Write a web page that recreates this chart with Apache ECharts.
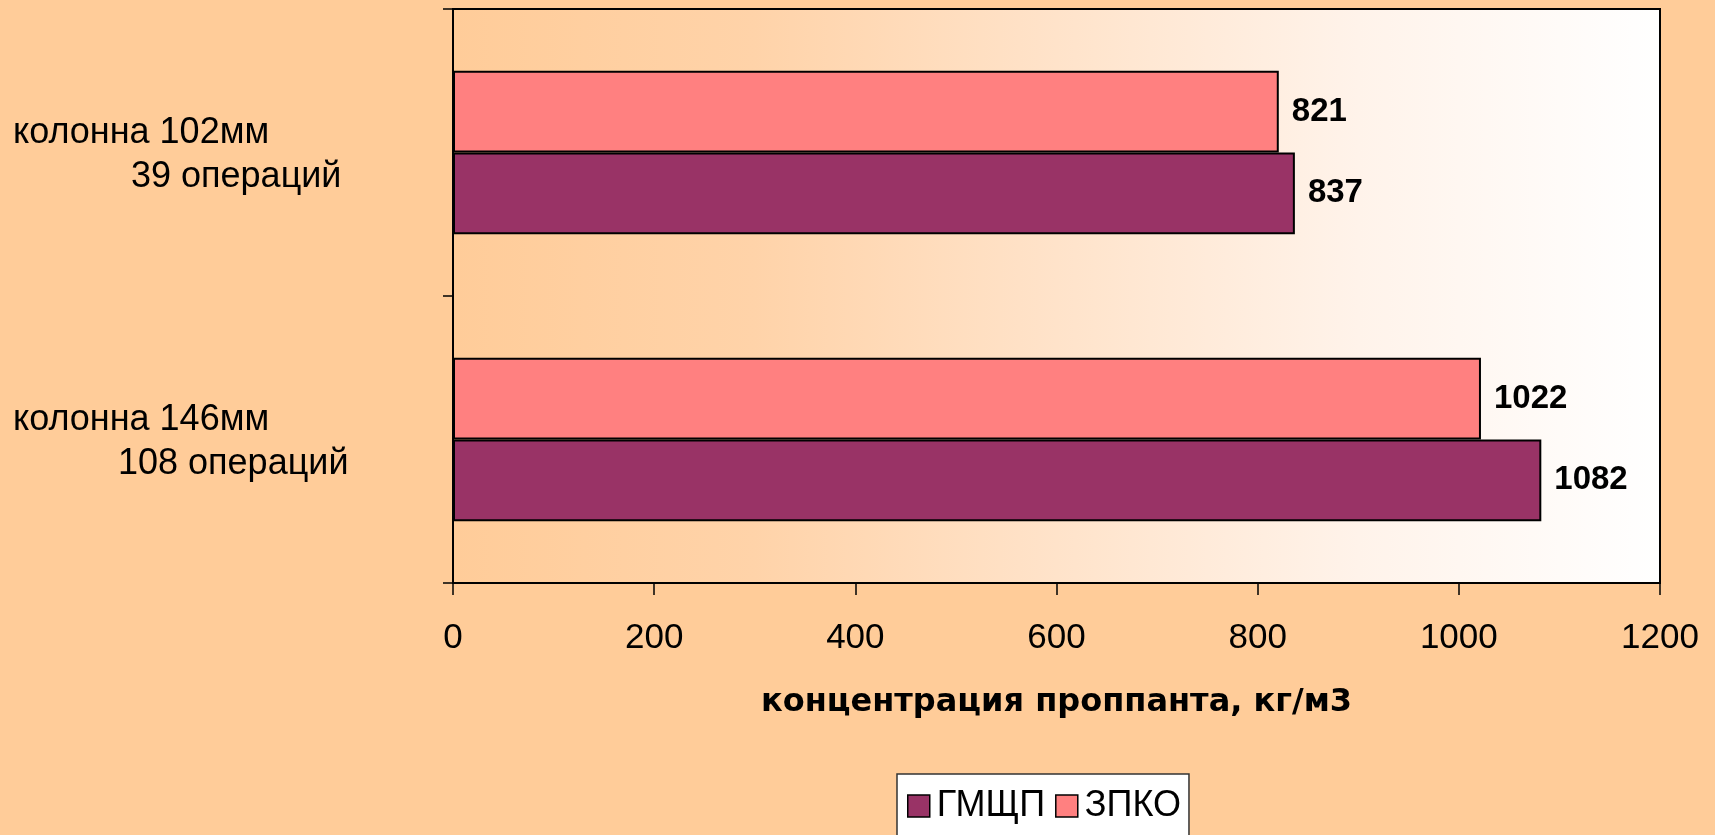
<!DOCTYPE html>
<html>
<head>
<meta charset="utf-8">
<script src="https://cdn.jsdelivr.net/npm/echarts@6/dist/echarts.min.js"></script>
<style>
html,body{margin:0;padding:0;background:#FFCC99;}
#chart{width:1715px;height:835px;}
</style>
</head>
<body>
<div id="chart"></div>
<script>
// Data (bottom-to-top category order, as drawn by the axis)
const categories = ['колонна 146мм\n108 операций', 'колонна 102мм\n39 операций'];
const seriesNames = ['ГМЩП', 'ЗПКО'];
const gmschpValues = [1082, 837];
const zpkoValues = [1022, 821];
const xTicks = [0, 200, 400, 600, 800, 1000, 1200];
const xAxisTitle = 'концентрация проппанта, кг/м3';

const FONT = '"Liberation Sans", Arial, sans-serif';
const chart = echarts.init(document.getElementById('chart'));

const labelIndent = [105, 118];

const valueLabel = {show: true, position: 'right', distance: 13, fontFamily: FONT, fontSize: 33, fontWeight: 'bold', color: '#000'};

chart.setOption({
  backgroundColor: '#FFCC99',
  animation: false,
  grid: {
    left: 453, right: 55, top: 9, bottom: 252,
    show: true,
    borderColor: '#000', borderWidth: 2,
    backgroundColor: new echarts.graphic.LinearGradient(0, 0, 1, 0, [
      {offset: 0, color: '#FFCC99'},
      {offset: 0.25, color: '#FFD3A9'},
      {offset: 0.5, color: '#FFE3CA'},
      {offset: 0.75, color: '#FFF3EA'},
      {offset: 1, color: '#FFFFFF'}
    ])
  },
  legend: {
    data: seriesNames,
    left: 897, top: 774,
    orient: 'horizontal',
    backgroundColor: '#FFFFFF',
    borderColor: '#333', borderWidth: 1.5,
    padding: [14, 8, 40, 10],
    itemGap: 10,
    itemWidth: 22, itemHeight: 22,
    icon: 'rect',
    itemStyle: {borderColor: '#000', borderWidth: 1.5},
    textStyle: {fontFamily: FONT, fontSize: 36, color: '#000', padding: [0, 0, 0, 2]}
  },
  xAxis: {
    type: 'value',
    min: xTicks[0], max: xTicks[xTicks.length - 1], interval: xTicks[1] - xTicks[0],
    name: xAxisTitle,
    nameLocation: 'middle',
    nameGap: 104,
    nameTextStyle: {fontFamily: '"DejaVu Sans", sans-serif', fontSize: 32, fontWeight: 'bold', color: '#000'},
    axisLine: {show: true, lineStyle: {color: '#000', width: 2}},
    axisTick: {show: true, length: 12, inside: false, lineStyle: {color: '#000', width: 1.5}},
    axisLabel: {fontFamily: FONT, fontSize: 35, color: '#000', margin: 38,
      formatter: function (v) { return String(v); }},
    splitLine: {show: false}
  },
  yAxis: {
    type: 'category',
    data: categories,
    axisLine: {show: true, lineStyle: {color: '#000', width: 2}},
    axisTick: {show: true, length: 10, lineStyle: {color: '#000', width: 1.5}},
    axisLabel: {
      fontFamily: FONT, color: '#000',
      align: 'left', margin: 440,
      padding: [5, 0, 0, 0],
      formatter: function (v, i) {
        const lines = v.split('\n');
        return '{a|' + lines[0] + '}\n{b' + i + '|' + lines[1] + '}';
      },
      rich: {
        a: {fontFamily: FONT, fontSize: 36, lineHeight: 44, color: '#000'},
        b0: {fontFamily: FONT, fontSize: 36, lineHeight: 44, color: '#000', padding: [0, 0, 0, labelIndent[0]]},
        b1: {fontFamily: FONT, fontSize: 36, lineHeight: 44, color: '#000', padding: [0, 0, 0, labelIndent[1]]}
      }
    }
  },
  series: [
    {
      name: seriesNames[1], type: 'bar', data: zpkoValues,
      barGap: '0%', barCategoryGap: '43%',
      itemStyle: {color: '#FF8080', borderColor: '#000', borderWidth: 2},
      label: valueLabel
    },
    {
      name: seriesNames[0], type: 'bar', data: gmschpValues,
      barGap: '0%', barCategoryGap: '43%',
      itemStyle: {color: '#993366', borderColor: '#000', borderWidth: 2},
      label: valueLabel
    }
  ]
});
</script>
</body>
</html>
